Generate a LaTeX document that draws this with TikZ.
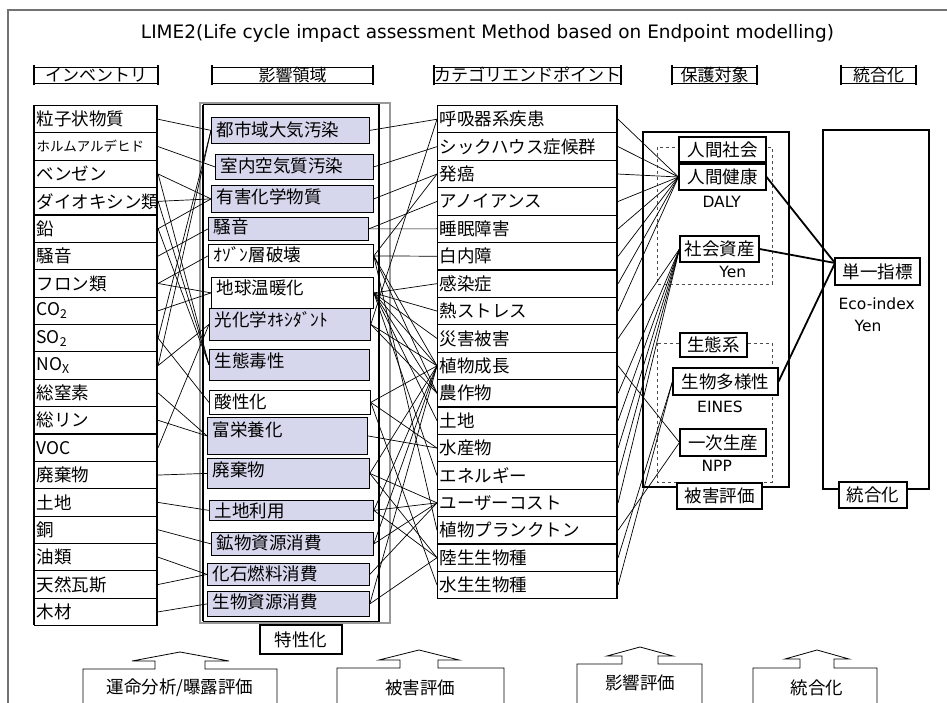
\documentclass[tikz,border=0pt]{standalone}
\usepackage{fontspec}
\setmainfont{Noto Sans CJK JP}
\newfontfamily\LatFont{DejaVu Sans}
\usetikzlibrary{calc}
\definecolor{lav}{RGB}{214,214,236}
\newcommand\MidBox[8]{%
  \node[mbox, fill=#7, minimum width={#4-#2}, minimum height={#5-#3}] (#1) at (#2,#3) {};
  \node[jp, anchor=west] (#1t) at ({#2+2},#6) {#8};
}
\newcommand\HdrBox[4]{%
  \node[hdr, minimum width={#3-#2}] (#1) at ({(#2+#3)/2},75) {#4};
  \draw[line width=2pt] ([yshift=1.5pt]#1.north west) -- ([yshift=-1.5pt]#1.south west);
  \draw[line width=2pt] ([yshift=1.5pt]#1.north east) -- ([yshift=-1.5pt]#1.south east);
}
\begin{document}
\begin{tikzpicture}[x=1pt,y=-1pt,
  jp/.style={font=\fontsize{17.5}{20}\selectfont},
  hdr/.style={draw, line width=0.9pt, minimum height=16pt, inner sep=0pt, font=\fontsize{17}{18}\selectfont},
  invrow/.style={draw, line width=1.1pt, anchor=north west, minimum height=27.37pt, text width=119pt, inner xsep=2pt, inner ysep=0pt, align=left, jp},
  catrow/.style={draw, line width=1.1pt, anchor=north west, minimum height=27.4pt, text width=176pt, inner xsep=2pt, inner ysep=0pt, align=left, jp},
  mbox/.style={draw, line width=0.8pt, anchor=north west, inner sep=0pt},
  pbox/.style={draw, line width=1.1pt, fill=white, inner sep=0pt, jp},
  cn/.style={line width=0.7pt},
  thk/.style={line width=1.8pt},
  lab/.style={font=\LatFont\fontsize{15.5}{18}\selectfont, inner sep=0pt},
  callout/.style={draw, line width=0.8pt, fill=white},
]
\useasboundingbox (0,0) rectangle (947,703);
% outer frame
\draw[line width=1.2pt, black!55] (947,10) -- (8,10) -- (8,703);
% title
\node[font=\LatFont\fontsize{18.5}{22}\selectfont, anchor=base] (title) at (487.5,39) {LIME2(Life cycle impact assessment Method based on Endpoint modelling)};
% headers
\HdrBox{h1}{34}{158}{インベントリ}
\HdrBox{h2}{212}{373}{影響領域}
\HdrBox{h3}{437}{618}{カテゴリエンドポイント}
\HdrBox{h4}{672}{757}{保護対象}
\HdrBox{h5}{841}{916}{統合化}
% inventory column
\foreach \t [count=\i] in {粒子状物質,{\fontsize{13.5}{16}\selectfont ホルムアルデヒド},ベンゼン,ダイオキシン類,鉛,騒音,フロン類,CO\textsubscript{2},SO\textsubscript{2},NO\textsubscript{X},総窒素,総リン,VOC,廃棄物,土地,銅,油類,天然瓦斯,木材}
  \node[invrow] (l\i) at (34,{105+(\i-1)*27.37}) {\t};
\draw[line width=2pt] (34,105) -- (34,625);
\draw[line width=2pt] (157,105) -- (157,625);
% middle frame
\draw[line width=2pt, black!40] (200,103) rectangle (390,623);
\draw[line width=1pt] (203,105) rectangle (379,621);
\draw[line width=2pt] (203,105) -- (203,621);
\draw[line width=2pt] (379,105) -- (379,621);
\MidBox{m1}{211}{117}{369}{143}{130}{lav}{都市域大気汚染}
\MidBox{m2}{215}{154}{373}{179}{166}{lav}{室内空気質汚染}
\MidBox{m3}{211}{185}{373}{212}{197}{lav}{有害化学物質}
\MidBox{m4}{208}{217}{368}{240}{227}{lav}{騒音}
\MidBox{m5}{208}{244}{373}{267}{255}{white}{ｵｿﾞﾝ層破壊}
\MidBox{m6}{211}{277}{373}{308}{288}{white}{地球温暖化}
\MidBox{m7}{209}{308}{370}{340}{320}{lav}{光化学ｵｷｼﾀﾞﾝﾄ}
\MidBox{m8}{209}{349}{369}{380}{361}{lav}{生態毒性}
\MidBox{m9}{209}{390}{370}{414}{402}{white}{酸性化}
\MidBox{m10}{207}{417}{367}{454}{430}{lav}{富栄養化}
\MidBox{m11}{207}{458}{369}{488}{470}{lav}{廃棄物}
\MidBox{m12}{209}{500}{373}{520}{511}{lav}{土地利用}
\MidBox{m13}{211}{532}{373}{555}{543}{lav}{鉱物資源消費}
\MidBox{m14}{207}{563}{369}{585}{574}{lav}{化石燃料消費}
\MidBox{m15}{207}{591}{369}{616}{602}{lav}{生物資源消費}
\node[draw, line width=1.5pt, minimum width=82pt, minimum height=29pt, inner sep=0pt, jp] (char) at (301,639.5) {特性化};
% category column
\foreach \t [count=\i] in {呼吸器系疾患,シックハウス症候群,発癌,アノイアンス,睡眠障害,白内障,感染症,熱ストレス,災害被害,植物成長,農作物,土地,水産物,エネルギー,ユーザーコスト,植物プランクトン,陸生生物種,水生生物種}
  \node[catrow] (c\i) at (437,{105+(\i-1)*27.4}) {\t};
\draw[line width=2.2pt] (617,105) -- (617,598.2);
% protection targets
\draw[line width=1.5pt] (643,132) rectangle (789,487);
\draw[line width=2.2pt] (643,132) -- (643,487);
\draw[dashed, line width=0.6pt, black!70] (657,147) rectangle (772,284);
\draw[dashed, line width=0.6pt, black!70] (657,343) rectangle (772,482);
\node[pbox, minimum width=87pt, minimum height=25pt] (hs) at (722.5,149.5) {人間社会};
\node[pbox, minimum width=87pt, minimum height=26pt] (hh) at (722.5,177) {人間健康};
\node[lab] (daly) at (721.7,201.7) {DALY};
\node[pbox, minimum width=79pt, minimum height=26pt] (sa) at (719.5,249) {社会資産};
\node[lab] (yen1) at (732.7,271.7) {Yen};
\node[pbox, minimum width=67pt, minimum height=24pt] (es) at (713.5,345) {生態系};
\node[pbox, minimum width=105pt, minimum height=27pt] (bd) at (725.5,381.5) {生物多様性};
\node[lab] (eines) at (720,406.7) {EINES};
\node[pbox, minimum width=86pt, minimum height=27pt] (np) at (723,442.5) {一次生産};
\node[lab] (npp) at (716.7,466) {NPP};
\node[pbox, minimum width=85pt, minimum height=26pt] (dl) at (719.5,496) {被害評価};
% integration
\draw[line width=1.5pt] (823,130) rectangle (929,489);
\node[pbox, minimum width=85pt, minimum height=27pt] (ix) at (877.5,271.5) {単一指標};
\node[lab] (eco) at (876.7,303.3) {Eco-index};
\node[lab] (yen2) at (868,325.7) {Yen};
\node[pbox, minimum width=68pt, minimum height=26pt] (il) at (873,495) {統合化};
\coordinate (ixin) at (835,263);
\draw[thk] (hh.east) -- (ixin);
\draw[thk] (sa.east) -- (ixin);
\draw[thk] (bd.east) -- (ixin);
% inventory -> impact category
\foreach \a/\b in {l1/m1,l2/m2,l3/m3,l3/m8,l4/m3,l4/m8,l5/m3,l5/m8,l6/m4,l7/m5,l7/m6,l8/m6,l9/m1,l9/m9,l10/m1,l10/m7,l11/m10,l12/m10,l13/m7,l14/m11,l15/m12,l16/m13,l17/m14,l18/m14,l19/m15}
  \draw[cn] (\a.east) -- (\b.west);
% impact category -> category endpoint
\foreach \a/\b in {m1/c1,m2/c2,m3/c3,m4/c4,m4/c5,m5/c3,m5/c6,m5/c10,m5/c11,m5/c16,m6/c7,m6/c8,m6/c9,m6/c10,m6/c11,m6/c12,m6/c14,m7/c1,m7/c10,m7/c11,m9/c10,m9/c13,m9/c18,m10/c13,m11/c10,m11/c15,m11/c17,m12/c10,m12/c15,m12/c17,m13/c10,m13/c15,m14/c15,m15/c10,m15/c17}
  \draw[cn] (\a.east) -- (\b.west);
% category endpoint -> protection target
\foreach \i in {1,...,8} \draw[cn] (c\i.east) -- (hh.west);
\foreach \i in {9,11,12,13,14,15} \draw[cn] (c\i.east) -- (sa.west);
\foreach \i in {10,16} \draw[cn] (c\i.east) -- (np.west);
\foreach \i in {17,18} \draw[cn] (c\i.east) -- (bd.west);
% bottom callouts
\draw[callout] (83,712) -- (83,669) -- (155,669) -- (155,661) -- (132,661) -- (180,652) -- (229,661) -- (205,661) -- (205,669) -- (277,669) -- (277,712);
\node[jp] (b1) at (180,688) {運命分析/曝露評価};
\draw[callout] (337,712) -- (337,668) -- (400,668) -- (400,660) -- (379,660) -- (419,650) -- (459,660) -- (438,660) -- (438,668) -- (504,668) -- (504,712);
\node[jp] (b2) at (420,688) {被害評価};
\draw[callout] (577,712) -- (577,664) -- (622,664) -- (622,656) -- (607,656) -- (640,647) -- (673,656) -- (658,656) -- (658,664) -- (702,664) -- (702,712);
\node[jp] (b3) at (640,683) {影響評価};
\draw[callout] (753,712) -- (753,668) -- (800,668) -- (800,659) -- (785,659) -- (817,650) -- (849,659) -- (834,659) -- (834,668) -- (877,668) -- (877,712);
\node[jp] (b4) at (817,688) {統合化};
\end{tikzpicture}
\end{document}
